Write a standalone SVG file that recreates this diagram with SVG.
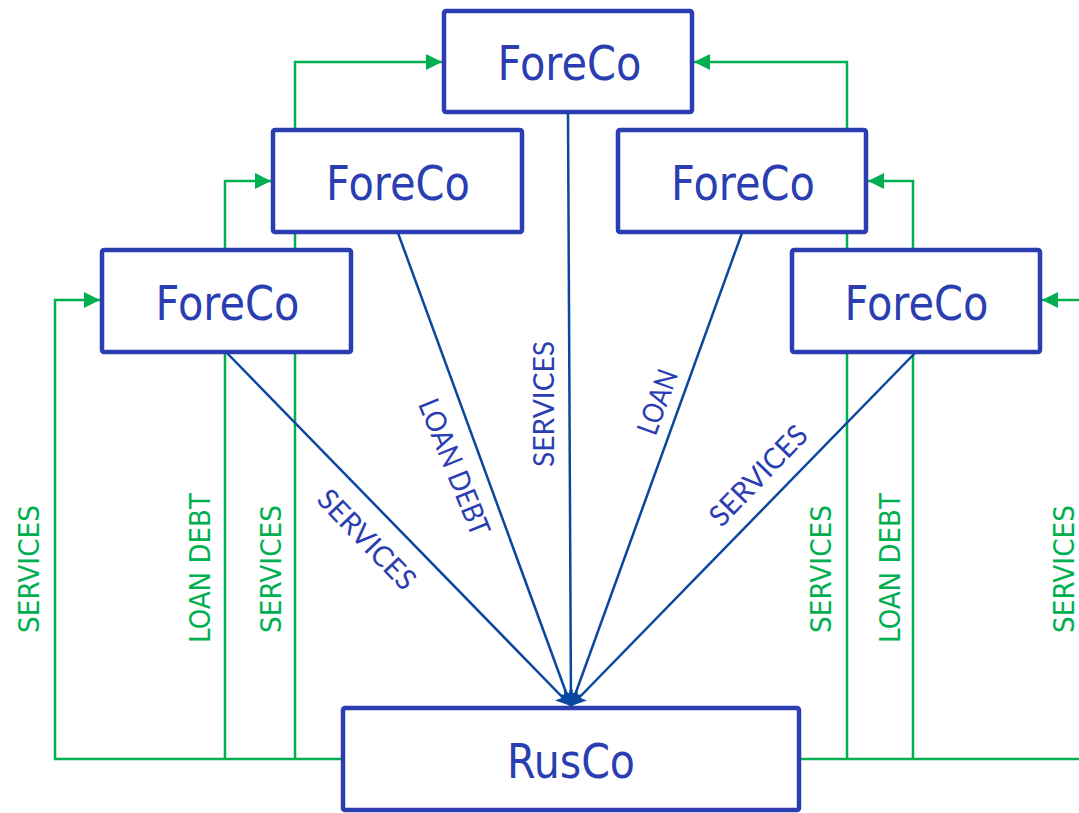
<svg xmlns="http://www.w3.org/2000/svg" width="1079" height="813" viewBox="0 0 1079 813">
  <style>
    .box { fill: #ffffff; stroke: #2a3eb1; stroke-width: 4.5; }
    .ntext { font-family: "DejaVu Sans", "Liberation Sans", sans-serif; font-size: 48px; fill: #2a3eb1; text-anchor: middle; }
    .g { fill: none; stroke: #00b050; stroke-width: 2.5; }
    .b { fill: none; stroke: #0a47a0; stroke-width: 2.5; }
    .glab { font-family: "DejaVu Sans", "Liberation Sans", sans-serif; font-size: 29px; fill: #00b050; text-anchor: middle; }
    .blab { font-family: "Lato", "Liberation Sans", sans-serif; font-size: 29px; fill: #2a3eb1; text-anchor: middle; }
  </style>
  <defs>
    <marker id="ga" markerUnits="userSpaceOnUse" markerWidth="18" markerHeight="18" refX="16" refY="8" orient="auto">
      <path d="M0,0 L16,8 L0,16 Z" fill="#00b050"/>
    </marker>
    <marker id="ba" markerUnits="userSpaceOnUse" markerWidth="18" markerHeight="16" refX="15" refY="7.5" orient="auto">
      <path d="M0,0 L15,7.5 L0,15 L3,7.5 Z" fill="#0a47a0"/>
    </marker>
  </defs>
  <rect width="1079" height="813" fill="#ffffff"/>

  <g id="connectors">
    <polyline class="g" points="343,759 55,759 55,300 100,300" marker-end="url(#ga)"/>
    <polyline class="g" points="225,759 225,181 271,181" marker-end="url(#ga)"/>
    <polyline class="g" points="295,759 295,62 442,62" marker-end="url(#ga)"/>
    <polyline class="g" points="799,759 1095,759 1095,300 1042,300" marker-end="url(#ga)"/>
    <polyline class="g" points="913,759 913,181 868,181" marker-end="url(#ga)"/>
    <polyline class="g" points="847,759 847,62 694,62" marker-end="url(#ga)"/>
    <line class="b" x1="568" y1="113" x2="571" y2="706" marker-end="url(#ba)"/>
    <line class="b" x1="398" y1="233" x2="571" y2="706" marker-end="url(#ba)"/>
    <line class="b" x1="742" y1="233" x2="571" y2="706" marker-end="url(#ba)"/>
    <line class="b" x1="227" y1="353" x2="571" y2="706" marker-end="url(#ba)"/>
    <line class="b" x1="915" y1="353" x2="571" y2="706" marker-end="url(#ba)"/>
    <text class="glab" transform="translate(39,569) rotate(-90)" textLength="128" lengthAdjust="spacingAndGlyphs">SERVICES</text>
    <text class="glab" transform="translate(210,568) rotate(-90)" textLength="150" lengthAdjust="spacingAndGlyphs">LOAN DEBT</text>
    <text class="glab" transform="translate(281,569) rotate(-90)" textLength="128" lengthAdjust="spacingAndGlyphs">SERVICES</text>
    <text class="glab" transform="translate(831,569) rotate(-90)" textLength="128" lengthAdjust="spacingAndGlyphs">SERVICES</text>
    <text class="glab" transform="translate(900,568) rotate(-90)" textLength="150" lengthAdjust="spacingAndGlyphs">LOAN DEBT</text>
    <text class="glab" transform="translate(1074,569) rotate(-90)" textLength="128" lengthAdjust="spacingAndGlyphs">SERVICES</text>
    <text class="blab" transform="translate(554,404) rotate(-90)" textLength="126" lengthAdjust="spacingAndGlyphs">SERVICES</text>
    <text class="blab" transform="translate(445,471) rotate(68)" textLength="145" lengthAdjust="spacingAndGlyphs">LOAN DEBT</text>
    <text class="blab" transform="translate(359.5,546.5) rotate(46)" textLength="127" lengthAdjust="spacingAndGlyphs">SERVICES</text>
    <text class="blab" transform="translate(667,405.5) rotate(-70)" textLength="67" lengthAdjust="spacingAndGlyphs">LOAN</text>
    <text class="blab" transform="translate(765.5,482.5) rotate(-46)" textLength="127" lengthAdjust="spacingAndGlyphs">SERVICES</text>
  </g>

  <g id="foreco-top">
    <rect class="box" x="444" y="11" width="248" height="101" rx="2"/>
    <text class="ntext" x="569.5" y="80" textLength="144" lengthAdjust="spacingAndGlyphs">ForeCo</text>
  </g>
  <g id="foreco-left2">
    <rect class="box" x="273" y="130" width="249" height="102" rx="2"/>
    <text class="ntext" x="398" y="200" textLength="144" lengthAdjust="spacingAndGlyphs">ForeCo</text>
  </g>
  <g id="foreco-right2">
    <rect class="box" x="618" y="130" width="248" height="102" rx="2"/>
    <text class="ntext" x="743" y="200" textLength="144" lengthAdjust="spacingAndGlyphs">ForeCo</text>
  </g>
  <g id="foreco-left1">
    <rect class="box" x="102" y="250" width="249" height="102" rx="2"/>
    <text class="ntext" x="227.5" y="320" textLength="144" lengthAdjust="spacingAndGlyphs">ForeCo</text>
  </g>
  <g id="foreco-right1">
    <rect class="box" x="792" y="250" width="248" height="102" rx="2"/>
    <text class="ntext" x="916.5" y="320" textLength="144" lengthAdjust="spacingAndGlyphs">ForeCo</text>
  </g>
  <g id="rusco">
    <rect class="box" x="343" y="708" width="456" height="102" rx="2"/>
    <text class="ntext" x="571" y="778" textLength="128" lengthAdjust="spacingAndGlyphs">RusCo</text>
  </g>
</svg>
